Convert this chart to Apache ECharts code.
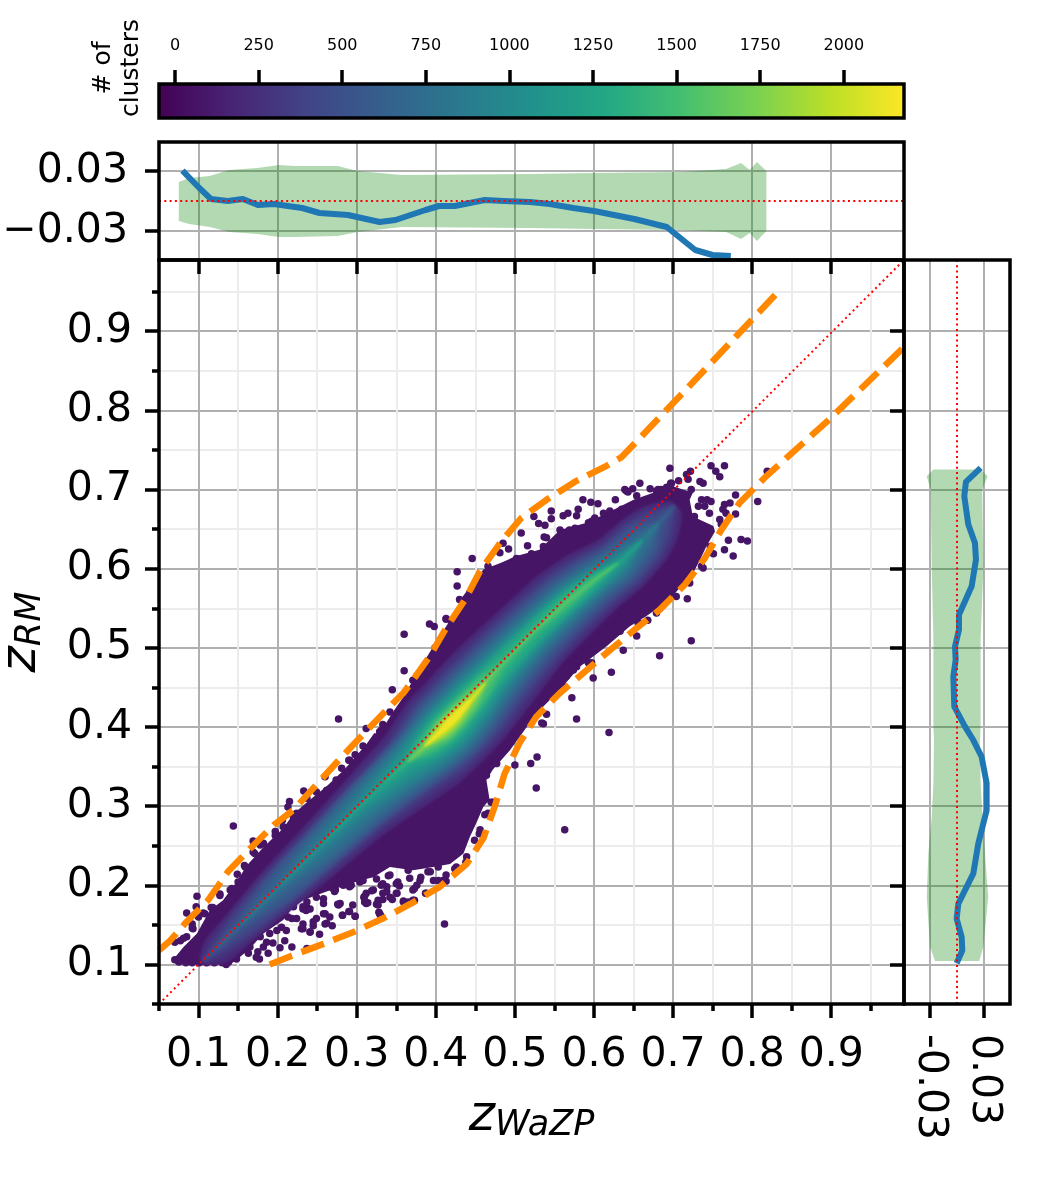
<!DOCTYPE html>
<html>
<head>
<meta charset="utf-8">
<style>html,body{margin:0;padding:0;background:#fff}#c{width:1062px;height:1181px}</style>
<script src="https://cdn.jsdelivr.net/npm/echarts@6/dist/echarts.min.js"></script>
</head>
<body>
<div id="c"></div>
<script>
// ---------- data ----------
const majorTicks = [0.1,0.2,0.3,0.4,0.5,0.6,0.7,0.8,0.9];
const minorTicks = [0.05,0.15,0.25,0.35,0.45,0.55,0.65,0.75,0.85,0.95];
const residualTicks = [-0.03,0.03];
const colorbarTicks = [0,250,500,750,1000,1250,1500,1750,2000];
const colorbarRange = [-48,2180];
const viridis = ['#440154','#482475','#414487','#355f8d','#2a788e','#21918c','#22a884','#44bf70','#7ad151','#bddf26','#fde725'];

const upperLimit = [[.05,.118],[.064,.130],[.085,.154],[.112,.181],[.137,.217],[.165,.246],[.195,.276],[.220,.295],[.279,.360],[.295,.377],[.342,.426],[.359,.443],[.371,.459],[.392,.489],[.413,.525],[.437,.561],[.456,.597],[.481,.632],[.508,.664],[.540,.687],[.578,.711],[.616,.730],[.635,.741],[.699,.808],[.835,.952]];
const lowerLimit = [[.19,.1],[.218,.111],[.258,.126],[.296,.141],[.333,.158],[.369,.177],[.405,.198],[.439,.227],[.460,.259],[.475,.301],[.487,.341],[.506,.380],[.527,.413],[.557,.443],[.591,.472],[.620,.497],[.654,.525],[.683,.548],[.715,.580],[.740,.613],[.761,.649],[.784,.683],[.818,.717],[.898,.789],[.992,.88]];
const identityLine = [[.05,.05],[.992,.99]];

const topMeanX = [.0796,.101,.1156,.137,.156,.175,.195,.231,.253,.289,.329,.349,.387,.404,.424,.443,.462,.486,.519,.544,.574,.6,.651,.692,.728,.75,.773];
const topMeanY = [.0303,.013,.002,0,.002,-.004,-.003,-.007,-.012,-.014,-.021,-.019,-.009,-.005,-.005,-.002,.001,0,-.001,-.003,-.007,-.01,-.018,-.026,-.049,-.054,-.055];
const topBandX = [.075,.088,.114,.139,.174,.202,.221,.276,.301,.357,.519,.6,.711,.767,.786,.797,.806,.818];
const topBandHi = [.019,.023,.025,.031,.033,.036,.035,.035,.03,.026,.027,.028,.029,.032,.038,.031,.039,.03];
const topBandLo = [-.02,-.023,-.026,-.031,-.033,-.036,-.036,-.035,-.031,-.026,-.027,-.028,-.029,-.031,-.038,-.032,-.04,-.03];

const rightMeanY = [.7274,.7097,.6916,.6557,.6325,.6114,.5777,.5418,.5228,.5017,.4848,.4637,.4257,.4004,.3835,.3624,.3287,.2949,.2527,.2147,.1768,.1578,.1346,.1177,.1016];
const rightMeanX = [.0263,.010,.0081,.0126,.02,.0211,.0163,.0022,.0022,-.0022,-.0015,-.0041,-.003,.0089,.0181,.0274,.033,.033,.0237,.0181,.0015,-.0004,.0052,.0059,-.0004];
const rightBandY = [.7253,.7169,.70,.5987,.5101,.4004,.3835,.3287,.2865,.24,.1852,.1219,.1042];
const rightBandLo = [-.0263,-.0337,-.0293,-.0281,-.0263,-.0263,-.0256,-.0263,-.0281,-.0319,-.0337,-.03,-.0244];
const rightBandHi = [.0263,.0341,.0281,.0293,.0263,.0263,.0256,.0263,.0285,.0311,.0348,.0293,.0248];

// solid dark region of the point cloud
const cloudOutline = [[.067,.105],[.075,.100],[.14,.100],[.152,.109],[.165,.120],[.182,.139],[.207,.156],[.220,.173],[.232,.181],[.262,.192],[.287,.200],[.304,.206],[.321,.210],[.342,.223],[.371,.219],[.397,.223],[.418,.227],[.435,.240],[.443,.261],[.451,.278],[.460,.299],[.468,.308],[.464,.333],[.472,.346],[.494,.371],[.515,.400],[.536,.426],[.557,.447],[.582,.476],[.616,.502],[.645,.527],[.666,.540],[.696,.561],[.706,.573],[.723,.590],[.734,.611],[.742,.628],[.753,.647],[.751,.654],[.725,.666],[.721,.687],[.725,.696],[.700,.704],[.675,.696],[.650,.687],[.616,.670],[.591,.658],[.557,.649],[.531,.624],[.502,.616],[.481,.607],[.460,.599],[.434,.565],[.418,.535],[.397,.502],[.376,.468],[.359,.438],[.348,.422],[.329,.392],[.322,.392],[.312,.378],[.298,.362],[.285,.347],[.262,.325],[.237,.305],[.220,.290],[.207,.272],[.182,.248],[.161,.225],[.148,.204],[.131,.181],[.114,.168],[.098,.139],[.081,.122]];

// single clusters seen around the cloud
const sparseClusters = [[.696,.727],[.748,.730],[.765,.730],[.754,.723],[.759,.716],[.819,.723],[.807,.685],[.779,.693],[.779,.669],[.770,.636],[.786,.637],[.794,.635],[.765,.624],[.776,.616],[.751,.619],[.718,.562],[.738,.601],[.658,.708],[.639,.700],[.649,.701],[.643,.697],[.654,.692],[.671,.701],[.681,.700],[.692,.703],[.697,.708],[.707,.711],[.717,.719],[.722,.723],[.719,.713],[.734,.710],[.738,.708],[.723,.700],[.736,.687],[.743,.687],[.748,.685],[.740,.679],[.746,.670],[.732,.679],[.765,.681],[.772,.683],[.763,.675],[.759,.662],[.761,.656],[.767,.670],[.727,.666],
[.446,.613],[.427,.596],[.427,.578],[.392,.530],[.398,.527],[.360,.517],[.360,.471],[.485,.632],[.492,.625],[.508,.645],[.516,.629],[.524,.666],[.530,.657],[.538,.655],[.546,.673],[.546,.663],[.561,.667],[.567,.670],[.578,.667],[.580,.675],[.586,.687],[.596,.684],[.605,.682],[.627,.687],[.641,.698],
[.723,.509],[.683,.490],[.637,.497],[.654,.515],[.622,.469],[.599,.462],[.572,.437],[.578,.410],[.619,.393],[.540,.416],[.536,.404],[.528,.362],[.520,.354],[.500,.352],[.534,.405],[.527,.323],[.563,.270],
[.624,.523],[.631,.531],[.645,.535],[.658,.531],[.597,.481],[.588,.485],[.578,.476],[.574,.472],[.553,.459],[.561,.451],[.553,.449],[.523,.438],[.515,.426],[.510,.405],[.494,.388],[.489,.375],[.477,.354],[.468,.358],
[.309,.185],[.314,.178],[.319,.193],[.325,.176],[.328,.166],[.330,.162],[.333,.182],[.331,.200],[.338,.192],[.342,.185],[.351,.190],[.345,.182],[.359,.179],[.365,.179],[.371,.181],[.373,.196],[.350,.202],[.354,.199],[.340,.212],[.325,.208],[.367,.209],[.381,.210],[.387,.190],[.393,.217],[.403,.223],[.397,.206],[.403,.206],[.413,.205],[.424,.221],[.438,.229],[.411,.151],[.295,.175],[.291,.167],[.298,.161],[.282,.162],[.279,.177],[.455,.265],[.462,.289],[.472,.305],[.464,.339],[.447,.286],
[.218,.122],[.203,.121],[.209,.130],[.177,.107],[.175,.116],[.188,.114],[.194,.127],[.186,.128],[.182,.122],[.241,.141],[.253,.138],[.232,.145],[.232,.151],[.260,.151],[.269,.149],[.245,.149],[.282,.162],[.290,.167],[.298,.161],[.266,.160],[.260,.164],[.249,.158],[.277,.175],[.218,.158],[.224,.158],[.211,.143],[.312,.177],[.310,.186],[.321,.194],[.327,.181],[.273,.194],[.236,.168],[.258,.177],[.237,.172],[.293,.200],[.304,.206],
[.144,.275],[.085,.165],[.098,.186],[.092,.151],[.092,.146],[.097,.173],[.106,.165],[.118,.172],[.127,.189],[.142,.196],[.149,.214],[.169,.256],[.169,.242],[.158,.225],[.077,.130],[.085,.135],[.206,.282],[.178,.251],[.197,.268],
[.345,.447],[.413,.536],[.312,.398],[.277,.410],[.308,.376],[.298,.365],[.290,.358],[.310,.365],[.323,.365],[.331,.396],[.331,.388],[.329,.379],[.321,.358],[.304,.348],[.295,.341],[.281,.348]];
// clusters along the rim of the solid region
const rimClusters = [[.498,.609],[.502,.613],[.521,.619],[.536,.628],[.537,.640],[.540,.639],[.557,.649],[.561,.645],[.569,.649],[.576,.651],[.585,.648],[.593,.658],[.601,.664],[.597,.660],[.612,.670],[.620,.673],[.628,.670],[.635,.675],[.645,.677],[.658,.681],[.666,.687],[.679,.698],[.685,.700],[.692,.702],[.698,.708],
[.481,.620],[.466,.603],[.462,.592],[.456,.569],[.443,.569],[.430,.561],[.413,.537],[.420,.531],[.409,.514],[.399,.500],[.392,.481],[.376,.464],[.371,.459],
[.736,.603],[.721,.582],[.704,.565],[.692,.561],[.679,.544],[.668,.535],[.656,.531],[.633,.521],[.624,.519],[.607,.502],[.597,.497],[.593,.481],[.574,.485],[.569,.472],[.565,.464],[.553,.455],[.540,.438],[.527,.438],[.517,.426],[.506,.409],[.512,.413],[.494,.388],[.485,.371],[.468,.350],[.747,.628],
[.304,.210],[.291,.200],[.279,.206],[.333,.202],[.365,.219],[.380,.206],[.390,.217],[.413,.213],[.426,.223],[.439,.236],[.449,.257],[.456,.270],[.466,.291],[.470,.305],
[.070,.128],[.081,.133],[.093,.145],[.100,.160],[.108,.164],[.116,.172],[.127,.187],[.140,.194],[.150,.204],[.159,.223],[.171,.240],[.182,.253],[.197,.263],[.207,.274],[.220,.286],[.232,.291],
[.135,.100],[.148,.107],[.163,.114],[.173,.109],[.165,.122],[.178,.135],[.190,.139],[.205,.147],[.213,.160],[.220,.173],[.232,.170],[.237,.179],[.249,.185],[.258,.183],[.270,.196],[.283,.200],[.304,.204],
[.070,.106],[.075,.103],[.084,.102],[.092,.102],[.101,.102],[.110,.102],[.120,.102],[.130,.102],[.138,.103],
[.215,.306],[.213,.299],[.233,.319],[.237,.310],[.249,.318],[.260,.337],[.262,.320],[.274,.333],[.291,.358],[.317,.358],[.329,.394],[.333,.403],[.342,.419],[.224,.291],[.241,.299],
[.199,.143],[.237,.120],[.230,.145],[.241,.141],[.245,.154],[.262,.152],[.258,.164],[.276,.176],[.232,.173],[.241,.170],[.272,.192],[.291,.198],[.312,.190],[.310,.179],[.327,.175],[.329,.164],[.333,.190],[.350,.190],[.338,.198],[.373,.181],[.359,.180],[.371,.194],[.388,.190],[.409,.206],[.342,.213],[.352,.204],[.376,.200],[.308,.206],[.312,.217],[.287,.211]];

// density ridge: position along the diagonal s=(x+y)/2, its offset d=y-x, and the half widths
// (in thousandths of d) of the band above each colour level, on each side of the ridge
const ridgeS = [.105,.12,.15,.20,.25,.30,.33,.36,.38,.40,.41,.42,.44,.46,.48,.52,.56,.59,.62,.65,.67,.69];
const ridgeD = [-.002,-.003,-.003,-.004,-.005,-.005,-.006,-.008,-.010,-.012,-.012,-.012,-.010,-.007,-.005,-.004,-.008,-.014,-.024,-.025,-.024,-.022];
const levelValues = [.10,.18,.26,.34,.42,.50,.58,.66,.74,.82,.90,.98];
const up10 = [8,25,30,40,45,50,55,60,70,80,80,80,80,78,75,70,70,65,55,50,40,12];
const dn10 = [8,30,35,45,55,65,75,85,90,90,90,90,90,88,85,75,70,65,60,55,45,20];
const up18 = [0,8,20,30,34,38,40,45,55,65,66,66,66,62,60,56,55,50,42,38,25,0];
const dn18 = [0,8,24,35,42,50,58,65,72,75,75,75,75,72,68,62,56,52,48,42,28,0];
const up26 = [0,0,6,24,30,34,36,40,46,56,57,57,56,52,50,46,45,40,33,27,4,0];
const dn26 = [0,0,6,28,36,44,50,58,62,66,67,66,64,60,56,50,46,42,38,30,6,0];
const up34 = [0,0,0,6,20,26,30,34,40,47,48,48,47,43,40,36,35,30,24,10,0,0];
const dn34 = [0,0,0,8,26,34,40,48,54,57,58,57,54,50,46,40,36,32,28,14,0,0];
const up42 = [0,0,0,0,6,14,20,26,33,39,40,40,39,34,31,28,27,22,14,0,0,0];
const dn42 = [0,0,0,0,8,18,28,38,45,48,49,48,45,40,36,31,27,24,18,0,0,0];
const up50 = [0,0,0,0,0,3,9,16,24,32,33,33,31,26,23,20,20,16,6,0,0,0];
const dn50 = [0,0,0,0,0,4,14,24,33,39,40,39,36,31,27,23,20,18,8,0,0,0];
const up58 = [0,0,0,0,0,0,0,6,17,25,26,26,24,19,18,15,16,10,0,0,0,0];
const dn58 = [0,0,0,0,0,0,0,8,24,30,31,30,27,22,20,17,16,11,0,0,0,0];
const up66 = [0,0,0,0,0,0,0,0,11,19,20,20,18,14,5,3,7,4,0,0,0,0];
const dn66 = [0,0,0,0,0,0,0,0,15,23,24,23,20,16,6,3,7,4,0,0,0,0];
const up74 = [0,0,0,0,0,0,0,0,3,14,15,15,12,2,0,0,0,0,0,0,0,0];
const dn74 = [0,0,0,0,0,0,0,0,5,17,18,17,14,2,0,0,0,0,0,0,0,0];
const up82 = [0,0,0,0,0,0,0,0,0,9,11,11,5,0,0,0,0,0,0,0,0,0];
const dn82 = [0,0,0,0,0,0,0,0,0,11,13,12,6,0,0,0,0,0,0,0,0,0];
const up90 = [0,0,0,0,0,0,0,0,0,5,7,7,2,0,0,0,0,0,0,0,0,0];
const dn90 = [0,0,0,0,0,0,0,0,0,6,8,7,2,0,0,0,0,0,0,0,0,0];
const up98 = [0,0,0,0,0,0,0,0,0,1,3,3,0,0,0,0,0,0,0,0,0,0];
const dn98 = [0,0,0,0,0,0,0,0,0,1,3,3,0,0,0,0,0,0,0,0,0,0];

// ---------- drawing ----------
const levelUps = [up10,up18,up26,up34,up42,up50,up58,up66,up74,up82,up90,up98];
const levelDowns = [dn10,dn18,dn26,dn34,dn42,dn50,dn58,dn66,dn74,dn82,dn90,dn98];
const mix = (a,b,t)=>a+(b-a)*t;
// one contour of the colour field; t blends towards the next read level so the shading is continuous
function levelPolygon(i,t){
  const j = Math.min(i+1,levelUps.length-1);
  const up = levelUps[i].map((w,k)=>mix(w,levelUps[j][k],t));
  const dn = levelDowns[i].map((w,k)=>mix(w,levelDowns[j][k],t));
  const hi = [], lo = [];
  ridgeS.forEach((s,k)=>{
    if(!(up[k]||dn[k]||up[k-1]||dn[k-1]||up[k+1]||dn[k+1])) return;
    const dh = ridgeD[k]+up[k]/1000, dl = ridgeD[k]-dn[k]/1000;
    hi.push([s-dh/2, s+dh/2]);
    lo.push([s-dl/2, s+dl/2]);
  });
  return lo.concat(hi.reverse());
}
const FONT = 'DejaVu Sans';
const GRIDC = '#b0b0b0', MINORC = '#ececec';
const tickStyle = {lineStyle:{color:'#000',width:3.5}};
const axisColor = {color:'#000',fontFamily:FONT};
const none = {show:false};
const noLine = {show:false,onZero:false};
const XR = {min:.05,max:.992}, YR = {min:.05,max:.99}, RR = {min:-.059,max:.059};

function poly(points, fill, blur, xi, yi, z, smooth){
  return {type:'custom', coordinateSystem:'cartesian2d', xAxisIndex:xi, yAxisIndex:yi, z, silent:true, clip:true,
    data:[0],
    renderItem(p,api){
      return {type:'polygon', shape:{points:points.map(q=>api.coord(q)), smooth:smooth||0},
        style:{fill, shadowBlur:blur, shadowColor:blur?fill:null}};
    }};
}
function frame(xr, yr, xi, yi){
  return {type:'custom', coordinateSystem:'cartesian2d', xAxisIndex:xi, yAxisIndex:yi, z:9, silent:true, clip:false,
    data:[0],
    renderItem(p,api){
      const a = api.coord([xr[0],yr[1]]), b = api.coord([xr[1],yr[0]]);
      return {type:'rect', shape:{x:a[0],y:a[1],width:b[0]-a[0],height:b[1]-a[1]},
        style:{fill:'none',stroke:'#000',lineWidth:3.5}};
    }};
}
function line(data, color, width, type, xi, yi, z, cap){
  return {type:'line', data, xAxisIndex:xi, yAxisIndex:yi, z, silent:true, showSymbol:false, symbol:'none', smooth:false,
    lineStyle:{color, width, type, cap:cap||'butt', join:'round'}, clip:true};
}
const zip = (a,b)=>a.map((v,i)=>[v,b[i]]);

const series = [];
series.push(poly(cloudOutline,'#461566',0,0,0,3));
series.push({type:'scatter', data:sparseClusters.concat(rimClusters), xAxisIndex:0, yAxisIndex:0, z:3, silent:true,
  symbolSize:7.5, itemStyle:{color:'#461566',opacity:1}});
const SUB = 4;
levelValues.forEach((v,i)=>{
  const next = i+1<levelValues.length ? levelValues[i+1] : v;
  for(let q=0;q<SUB;q++){
    const t = q/SUB;
    series.push(poly(levelPolygon(i,t), echarts.color.lerp(mix(v,next,t),viridis), 3, 0, 0, 4+(i*SUB+q)*0.001, 0.2));
  }
});
series.push(line(upperLimit,'#ff8800',6.5,[24,10],0,0,6));
series.push(line(lowerLimit,'#ff8800',6.5,[24,10],0,0,6));
series.push(line(identityLine,'#f00',2,[2,3.3],0,0,7));
series.push(frame([XR.min,XR.max],[YR.min,YR.max],0,0));

const bandFill = 'rgba(0,128,0,0.3)';
series.push(poly(zip(topBandX,topBandHi).concat(zip(topBandX,topBandLo).reverse()),bandFill,0,3,3,3));
series.push(line(zip(topMeanX,topMeanY),'#1f77b4',6,'solid',3,3,5));
series.push(line([[.05,0],[.992,0]],'#f00',2,[2,3.3],3,3,7));
series.push(frame([XR.min,XR.max],[RR.min,RR.max],3,3));

series.push(poly(zip(rightBandLo,rightBandY).concat(zip(rightBandHi,rightBandY).reverse()),bandFill,0,4,4,3));
series.push(line(zip(rightMeanX,rightMeanY),'#1f77b4',6,'solid',4,4,5));
series.push(line([[0,.05],[0,.99]],'#f00',2,[2,3.3],4,4,7));
series.push(frame([RR.min,RR.max],[YR.min,YR.max],4,4));

series.push({type:'custom', coordinateSystem:'cartesian2d', xAxisIndex:5, yAxisIndex:5, z:3, silent:true, data:[0],
  renderItem(p,api){
    const a = api.coord([colorbarRange[0],1]), b = api.coord([colorbarRange[1],0]);
    return {type:'rect', shape:{x:a[0],y:a[1],width:b[0]-a[0],height:b[1]-a[1]},
      style:{fill:new echarts.graphic.LinearGradient(0,0,1,0,viridis.map((c,i)=>({offset:i/10,color:c}))),stroke:'#000',lineWidth:3.5}};
  }});

const fmt1 = v=>v.toFixed(1);
const LF = 41;
const xLabel = Object.assign({fontSize:LF,margin:31,formatter:fmt1,customValues:majorTicks},axisColor);
const yLabel = Object.assign({fontSize:LF,margin:27,padding:[4,0,0,0],formatter:fmt1,customValues:majorTicks},axisColor);
const nameRich = {z:{fontFamily:FONT,fontStyle:'italic',fontSize:50,color:'#000'},
                  s:{fontFamily:FONT,fontStyle:'italic',fontSize:35,color:'#000',padding:[16,0,0,0]}};
const grids = [
  {left:159,top:260,width:745,height:744},
  {left:159,top:142,width:745,height:118},
  {left:904,top:260,width:106,height:744},
  {left:159,top:84,width:745,height:34}
].map(g=>Object.assign(g,{show:false,containLabel:false,outerBoundsMode:'none'}));

const option = {
  animation:false,
  grid:grids,
  xAxis:[
    // 0 main bottom minor
    Object.assign({type:'value',gridIndex:0,position:'bottom',axisLine:noLine,
      axisTick:Object.assign({show:true,length:7,customValues:minorTicks},tickStyle),axisLabel:{show:false,customValues:minorTicks},
      splitLine:{show:true,lineStyle:{color:MINORC,width:2}}},XR),
    // 1 main bottom major with name
    Object.assign({type:'value',gridIndex:0,position:'bottom',axisLine:noLine,
      axisTick:Object.assign({show:true,length:14,customValues:majorTicks},tickStyle),axisLabel:xLabel,
      splitLine:{show:true,lineStyle:{color:GRIDC,width:2}},
      name:'{z|z}{s|WaZP}',nameLocation:'middle',nameGap:88,nameTextStyle:{rich:nameRich}},XR),
    // 2 main top inward
    Object.assign({type:'value',gridIndex:0,position:'top',axisLine:noLine,
      axisTick:Object.assign({show:true,inside:true,length:14,customValues:majorTicks},tickStyle),axisLabel:{show:false,customValues:majorTicks},splitLine:none},XR),
    // 3 top panel
    Object.assign({type:'value',gridIndex:1,position:'bottom',axisLine:noLine,axisTick:{show:false,customValues:majorTicks},axisLabel:{show:false,customValues:majorTicks},
      splitLine:{show:true,lineStyle:{color:GRIDC,width:2}}},XR),
    // 4 right panel
    Object.assign({type:'value',gridIndex:2,position:'bottom',axisLine:noLine,
      axisTick:Object.assign({show:true,length:14,customValues:residualTicks},tickStyle),
      axisLabel:Object.assign({fontSize:LF,margin:30,rotate:-90,padding:[0,0,22,0],customValues:residualTicks,formatter:v=>v.toFixed(2)},axisColor),
      splitLine:{show:true,lineStyle:{color:GRIDC,width:2}}},RR),
    // 5 colour bar
    {type:'value',gridIndex:3,position:'top',min:colorbarRange[0],max:colorbarRange[1],axisLine:noLine,
      axisTick:Object.assign({show:true,length:14,customValues:colorbarTicks},tickStyle),
      axisLabel:Object.assign({fontSize:16,margin:30,customValues:colorbarTicks,formatter:v=>String(v)},axisColor),splitLine:none}
  ],
  yAxis:[
    Object.assign({type:'value',gridIndex:0,position:'left',axisLine:noLine,
      axisTick:Object.assign({show:true,length:7,customValues:minorTicks},tickStyle),axisLabel:{show:false,customValues:minorTicks},
      splitLine:{show:true,lineStyle:{color:MINORC,width:2}}},YR),
    Object.assign({type:'value',gridIndex:0,position:'left',axisLine:noLine,
      axisTick:Object.assign({show:true,length:14,customValues:majorTicks},tickStyle),axisLabel:yLabel,
      splitLine:{show:true,lineStyle:{color:GRIDC,width:2}},
      name:'{z|z}{s|RM}',nameLocation:'middle',nameGap:111,nameRotate:90,nameTextStyle:{rich:nameRich}},YR),
    Object.assign({type:'value',gridIndex:0,position:'right',axisLine:noLine,
      axisTick:Object.assign({show:true,inside:true,length:14,customValues:majorTicks},tickStyle),axisLabel:{show:false,customValues:majorTicks},splitLine:none},YR),
    Object.assign({type:'value',gridIndex:1,position:'left',axisLine:noLine,
      axisTick:Object.assign({show:true,length:14,customValues:residualTicks},tickStyle),
      axisLabel:Object.assign({fontSize:LF,margin:31,padding:[6,0,0,0],customValues:residualTicks,formatter:v=>(v<0?'\u2212':'')+Math.abs(v).toFixed(2)},axisColor),
      splitLine:{show:true,lineStyle:{color:GRIDC,width:2}}},RR),
    Object.assign({type:'value',gridIndex:2,position:'left',axisLine:noLine,axisTick:{show:false,customValues:majorTicks},axisLabel:{show:false,customValues:majorTicks},
      splitLine:{show:true,lineStyle:{color:GRIDC,width:2}}},YR),
    {type:'value',gridIndex:3,min:0,max:1,show:false,axisLine:{onZero:false}}
  ],
  series,
  graphic:[{type:'text',x:117,y:68,rotation:Math.PI/2,z:10,
    style:{text:'# of\nclusters',font:'25px "DejaVu Sans"',fill:'#000',textAlign:'center',textVerticalAlign:'middle',lineHeight:28}}]
};
const chart = echarts.init(document.getElementById('c'),null,{renderer:'canvas',width:1062,height:1181});
chart.setOption(option);
</script>
</body>
</html>
